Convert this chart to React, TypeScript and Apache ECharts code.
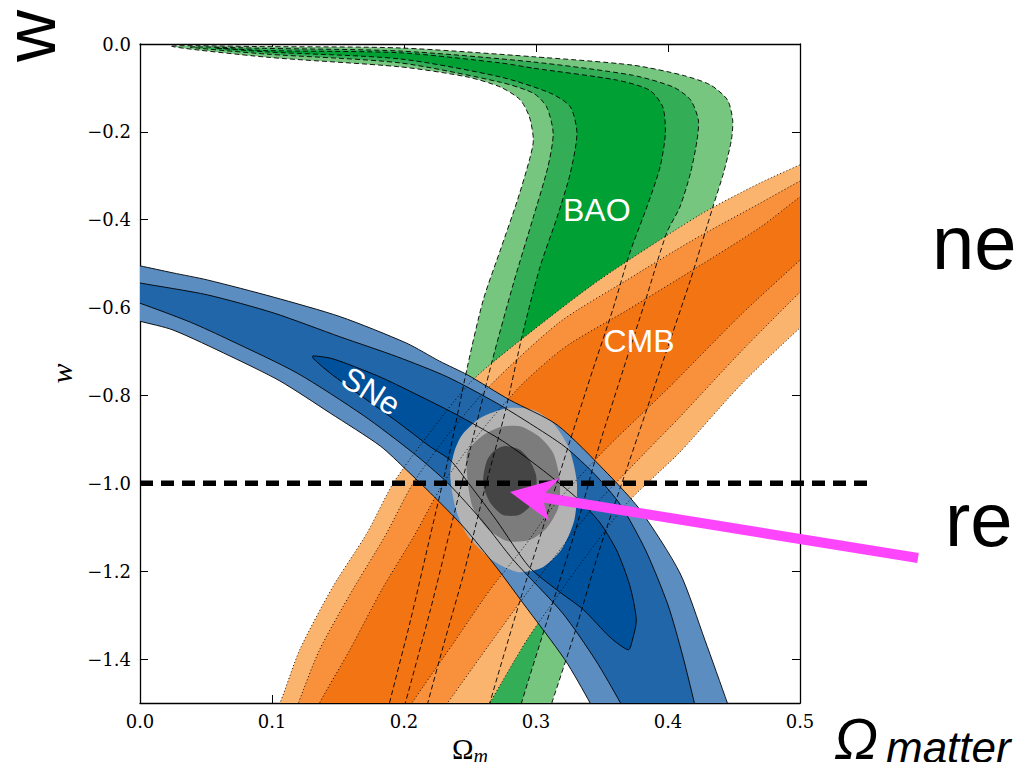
import React, { useEffect, useRef } from "react";
import * as echarts from "echarts";

type Pt = [number, number];

// ---------- axes ----------
const X_MIN = 0;
const X_MAX = 0.5;
const X_INTERVAL = 0.1;
const Y_MIN = -1.5;
const Y_MAX = 0;

// ---------- BAO (green, dashed contours) : closed outlines ----------
const baoOuter: Pt[] = [
  [0.024, -0.005], [0.096, -0.006], [0.197, -0.009], [0.298, -0.029], [0.373, -0.048], [0.411, -0.071],
  [0.432, -0.093], [0.445, -0.127], [0.449, -0.173], [0.448, -0.219], [0.442, -0.294], [0.434, -0.371],
  [0.417, -0.537], [0.394, -0.742], [0.371, -0.947], [0.348, -1.152], [0.33, -1.334], [0.312, -1.5],
  [0.309, -1.527], [0.187, -1.527], [0.189, -1.5], [0.205, -1.311], [0.22, -1.118], [0.235, -0.924],
  [0.248, -0.735], [0.26, -0.583], [0.273, -0.469], [0.286, -0.355], [0.295, -0.264], [0.298, -0.219],
  [0.295, -0.166], [0.288, -0.127], [0.273, -0.098], [0.248, -0.075], [0.197, -0.052], [0.096, -0.03],
];
const baoMid: Pt[] = [
  [0.038, -0.007], [0.096, -0.01], [0.197, -0.016], [0.298, -0.041], [0.373, -0.071], [0.404, -0.098],
  [0.417, -0.127], [0.423, -0.173], [0.422, -0.219], [0.417, -0.294], [0.409, -0.371], [0.399, -0.43],
  [0.383, -0.583], [0.366, -0.742], [0.348, -0.913], [0.33, -1.106], [0.311, -1.288], [0.289, -1.5],
  [0.287, -1.527], [0.198, -1.527], [0.201, -1.5], [0.22, -1.288], [0.235, -1.106], [0.25, -0.924],
  [0.267, -0.719], [0.283, -0.544], [0.298, -0.394], [0.309, -0.28], [0.313, -0.203], [0.308, -0.143],
  [0.298, -0.112], [0.273, -0.087], [0.197, -0.043], [0.096, -0.023],
];
const baoInner: Pt[] = [
  [0.057, -0.009], [0.096, -0.015], [0.197, -0.02], [0.273, -0.043], [0.298, -0.055], [0.361, -0.082],
  [0.386, -0.105], [0.396, -0.143], [0.398, -0.203], [0.394, -0.28], [0.384, -0.371], [0.371, -0.476],
  [0.358, -0.606], [0.343, -0.742], [0.326, -0.901], [0.307, -1.084], [0.288, -1.266], [0.265, -1.5],
  [0.263, -1.527], [0.216, -1.527], [0.218, -1.5], [0.231, -1.357], [0.246, -1.197], [0.261, -1.015],
  [0.277, -0.833], [0.29, -0.658], [0.303, -0.508], [0.316, -0.394], [0.326, -0.294], [0.331, -0.203],
  [0.326, -0.143], [0.311, -0.112], [0.273, -0.075], [0.197, -0.034], [0.096, -0.018],
];

// ---------- CMB (orange, dotted contours) : boundary curves ----------
const cmbA: Pt[] = [
  [0.1, -1.527], [0.106, -1.5], [0.121, -1.379], [0.146, -1.236], [0.172, -1.113], [0.192, -0.999],
  [0.22, -0.883], [0.252, -0.765], [0.298, -0.651], [0.348, -0.537], [0.424, -0.389], [0.47, -0.316],
  [0.5, -0.275], [0.509, -0.264],
];
const cmbB: Pt[] = [
  [0.117, -1.527], [0.12, -1.5], [0.136, -1.379], [0.161, -1.243], [0.186, -1.118], [0.207, -0.999],
  [0.235, -0.883], [0.267, -0.772], [0.318, -0.633], [0.369, -0.537], [0.419, -0.446], [0.47, -0.362],
  [0.5, -0.312], [0.509, -0.3],
];
const cmbC: Pt[] = [
  [0.133, -1.527], [0.136, -1.5], [0.159, -1.379], [0.183, -1.243], [0.208, -1.118], [0.23, -0.999],
  [0.258, -0.883], [0.289, -0.776], [0.322, -0.69], [0.369, -0.606], [0.419, -0.514], [0.47, -0.417],
  [0.5, -0.348], [0.509, -0.332],
];
const cmbD: Pt[] = [
  [0.201, -1.527], [0.206, -1.5], [0.239, -1.357], [0.265, -1.243], [0.292, -1.14], [0.314, -1.049],
  [0.352, -0.924], [0.379, -0.845], [0.404, -0.772], [0.455, -0.617], [0.5, -0.492], [0.509, -0.469],
];
const cmbE: Pt[] = [
  [0.227, -1.527], [0.233, -1.5], [0.267, -1.357], [0.292, -1.254], [0.318, -1.152], [0.345, -1.049],
  [0.383, -0.929], [0.409, -0.849], [0.455, -0.701], [0.5, -0.565], [0.509, -0.542],
];
const cmbF: Pt[] = [
  [0.26, -1.527], [0.265, -1.5], [0.293, -1.357], [0.314, -1.266], [0.333, -1.186], [0.369, -1.045],
  [0.409, -0.929], [0.455, -0.776], [0.5, -0.646], [0.509, -0.624],
];

// ---------- SNe (blue, solid contours) ----------
const sneU3: Pt[] = [
  [-0.008, -0.501], [0, -0.505], [0.025, -0.521], [0.051, -0.537], [0.101, -0.576], [0.152, -0.621],
  [0.202, -0.681], [0.227, -0.722], [0.248, -0.753], [0.28, -0.81], [0.316, -0.867], [0.354, -0.977],
  [0.379, -1.061], [0.409, -1.204], [0.428, -1.357], [0.445, -1.5], [0.448, -1.527],
];
const sneL3: Pt[] = [
  [-0.008, -0.624], [0, -0.631], [0.025, -0.651], [0.068, -0.71], [0.106, -0.767], [0.144, -0.84],
  [0.182, -0.915], [0.202, -0.97], [0.22, -1.022], [0.245, -1.099], [0.27, -1.191], [0.29, -1.272],
  [0.322, -1.402], [0.341, -1.5], [0.345, -1.527],
];
const sneU2: Pt[] = [
  [-0.008, -0.539], [0, -0.544], [0.051, -0.571], [0.101, -0.612], [0.152, -0.667], [0.195, -0.712],
  [0.233, -0.758], [0.27, -0.817], [0.295, -0.863], [0.322, -0.917], [0.345, -0.981], [0.364, -1.049],
  [0.383, -1.152], [0.4, -1.277], [0.411, -1.391], [0.42, -1.5], [0.422, -1.527],
];
const sneL2: Pt[] = [
  [-0.008, -0.583], [0, -0.59], [0.038, -0.633], [0.068, -0.674], [0.119, -0.749], [0.169, -0.845],
  [0.207, -0.931], [0.233, -0.999], [0.26, -1.088], [0.283, -1.175], [0.32, -1.295], [0.345, -1.402],
  [0.364, -1.5], [0.368, -1.527],
];
const sneU1: Pt[] = [
  [0.131, -0.71], [0.144, -0.715], [0.157, -0.728], [0.182, -0.758], [0.207, -0.794], [0.233, -0.833],
  [0.254, -0.867], [0.277, -0.908], [0.303, -0.965], [0.33, -1.031], [0.348, -1.088], [0.361, -1.152],
  [0.371, -1.232], [0.376, -1.311], [0.373, -1.357], [0.37, -1.379],
];
const sneL1: Pt[] = [
  [0.356, -1.35], [0.336, -1.288], [0.316, -1.243], [0.295, -1.191], [0.27, -1.084], [0.25, -1.004],
  [0.235, -0.947], [0.22, -0.917], [0.195, -0.86], [0.169, -0.804], [0.144, -0.749], [0.131, -0.715],
];

// ---------- combined (grey) ----------
const combOuter: Pt[] = [
  [0.235, -0.981], [0.238, -0.929], [0.244, -0.89], [0.258, -0.851], [0.278, -0.829], [0.298, -0.833],
  [0.313, -0.863], [0.325, -0.92], [0.331, -0.999], [0.329, -1.084], [0.319, -1.152], [0.304, -1.193],
  [0.286, -1.202], [0.267, -1.175], [0.248, -1.118], [0.239, -1.056],
];
const combMid: Pt[] = [
  [0.248, -0.988], [0.248, -0.929], [0.258, -0.895], [0.273, -0.872], [0.288, -0.87], [0.303, -0.895],
  [0.313, -0.931], [0.318, -0.992], [0.317, -1.054], [0.308, -1.102], [0.295, -1.129], [0.278, -1.131],
  [0.263, -1.102], [0.252, -1.054],
];
const combInner: Pt[] = [
  [0.26, -0.988], [0.263, -0.947], [0.269, -0.924], [0.277, -0.915], [0.288, -0.924], [0.295, -0.947],
  [0.3, -0.981], [0.3, -1.022], [0.295, -1.054], [0.287, -1.072], [0.275, -1.072], [0.266, -1.047],
  [0.261, -1.015],
];

// ---------- annotations ----------
const wLambda: Pt[] = [[0, -1.0], [0.5545, -1.0]];
const arrowTip: Pt = [0.2803, -1.02];
const arrowTail: Pt = [0.5894, -1.17];
const regionLabels = [
  { text: "BAO", at: [0.346, -0.378] as Pt, rot: 0 },
  { text: "CMB", at: [0.378, -0.676] as Pt, rot: 0 },
  { text: "SNe", at: [0.175, -0.79] as Pt, rot: -32 },
];

const rev = (a: Pt[]) => a.slice().reverse();

const COLORS = {
  baoL: "#76c67f", baoM: "#33ae57", baoD: "#00a035",
  cmbL: "#fbb46e", cmbM: "#f8903c", cmbD: "#f37413",
  sneL: "#5c8dc1", sneM: "#2166a8", sneD: "#00519b",
  grL: "#b3b3b3", grM: "#7c7c7c", grD: "#454545",
};

const fillRegions = [
  { pts: baoOuter, color: COLORS.baoL },
  { pts: baoMid, color: COLORS.baoM },
  { pts: baoInner, color: COLORS.baoD },
  { pts: [...cmbA, ...rev(cmbF)], color: COLORS.cmbL },
  { pts: [...cmbB, ...rev(cmbE)], color: COLORS.cmbM },
  { pts: [...cmbC, ...rev(cmbD)], color: COLORS.cmbD },
  { pts: [...sneU3, ...rev(sneL3)], color: COLORS.sneL },
  { pts: [...sneU2, ...rev(sneL2)], color: COLORS.sneM },
  { pts: [...sneU1, ...sneL1], color: COLORS.sneD },
  { pts: combOuter, color: COLORS.grL },
  { pts: combMid, color: COLORS.grM },
  { pts: combInner, color: COLORS.grD },
];

const DASH = [5, 3];
const DOT = [1, 2.4];
const outlineRegions = [
  { pts: baoOuter, dash: DASH },
  { pts: baoMid, dash: DASH },
  { pts: baoInner, dash: DASH },
  { pts: [...cmbA, ...rev(cmbF)], dash: DOT },
  { pts: [...cmbB, ...rev(cmbE)], dash: DOT },
  { pts: [...cmbC, ...rev(cmbD)], dash: DOT },
  { pts: [...sneU3, ...rev(sneL3)], dash: null },
  { pts: [...sneU2, ...rev(sneL2)], dash: null },
  { pts: [...sneU1, ...sneL1], dash: null },
];

const SMOOTH = 0.25;

const fmt = (v: number) => {
  if (Math.abs(v) < 1e-9) return "0.0";
  return (v < 0 ? "\u2212" : "") + Math.abs(v).toFixed(1);
};

export default function App() {
  const ref = useRef<HTMLDivElement>(null);
  useEffect(() => {
    document.body.style.margin = "0";
    const chart = echarts.init(ref.current!, null, { renderer: "svg" });
    const serif = "DejaVu Serif";
    const axisLine = { show: true, onZero: false, lineStyle: { color: "#000", width: 1.3 } };
    const axisTick = { show: true, inside: true, length: 8, lineStyle: { color: "#000", width: 1 } };
    const anchor = (n: number) => Array.from({ length: n }, (_, i) => [0.25, -0.75, i]);

    const option: any = {
      animation: false,
      backgroundColor: "#fff",
      grid: { left: 140, right: 219, top: 44, bottom: 59, containLabel: false, outerBoundsMode: "none" },
      xAxis: [
        {
          type: "value", min: X_MIN, max: X_MAX, interval: X_INTERVAL, position: "bottom",
          axisLine, axisTick, splitLine: { show: false },
          axisLabel: { color: "#000", fontFamily: serif, fontSize: 18, margin: 9, formatter: fmt },
          name: "{a|Ω}{b|m}", nameLocation: "middle", nameGap: 27,
          nameTextStyle: {
            rich: {
              a: { fontFamily: "Liberation Serif", fontSize: 29, color: "#000" },
              b: { fontFamily: "Liberation Serif", fontStyle: "italic", fontSize: 20, color: "#000", padding: [14, 0, 0, 0] },
            },
          },
        },
        {
          type: "value", min: X_MIN, max: X_MAX, interval: X_INTERVAL, position: "top",
          axisLine, axisTick, splitLine: { show: false }, axisLabel: { show: false },
        },
      ],
      yAxis: [
        {
          type: "value", min: Y_MIN, max: Y_MAX, splitNumber: 7, position: "left",
          axisLine, axisTick, splitLine: { show: false },
          axisLabel: {
            color: "#000", fontFamily: serif, fontSize: 18, margin: 9,
            formatter: (v: number) => (Math.abs(v - Y_MIN) < 1e-9 ? "" : fmt(v)),
          },
          name: "w", nameLocation: "middle", nameGap: 58, nameRotate: 90,
          nameTextStyle: { fontFamily: "Liberation Serif", fontStyle: "italic", fontSize: 30, color: "#000" },
        },
        {
          type: "value", min: Y_MIN, max: Y_MAX, splitNumber: 7, position: "right",
          axisLine, axisTick, splitLine: { show: false }, axisLabel: { show: false },
        },
      ],
      series: [
        {
          type: "custom", coordinateSystem: "cartesian2d", clip: true, silent: true, z: 1,
          data: anchor(fillRegions.length), encode: { x: 0, y: 1 },
          renderItem: (params: any, api: any) => {
            const r = fillRegions[params.dataIndex];
            return {
              type: "polygon",
              shape: { points: r.pts.map((p) => api.coord(p)), smooth: SMOOTH },
              style: { fill: r.color, stroke: null },
            };
          },
        },
        {
          type: "custom", coordinateSystem: "cartesian2d", clip: true, silent: true, z: 2,
          data: anchor(outlineRegions.length), encode: { x: 0, y: 1 },
          renderItem: (params: any, api: any) => {
            const r = outlineRegions[params.dataIndex];
            return {
              type: "polygon",
              shape: { points: r.pts.map((p) => api.coord(p)), smooth: SMOOTH },
              style: { fill: null, stroke: "#000", lineWidth: 0.9, lineDash: r.dash || null },
            };
          },
        },
        {
          type: "custom", coordinateSystem: "cartesian2d", clip: false, silent: true, z: 3,
          data: anchor(regionLabels.length), encode: { x: 0, y: 1 },
          renderItem: (params: any, api: any) => {
            const l = regionLabels[params.dataIndex];
            const c = api.coord(l.at);
            return {
              type: "text", x: c[0], y: c[1], rotation: (l.rot * Math.PI) / 180,
              style: {
                text: l.text, fill: "#fff", fontSize: 32, fontFamily: "Liberation Sans",
                align: "center", verticalAlign: "middle",
              },
            };
          },
        },
        {
          type: "custom", coordinateSystem: "cartesian2d", clip: false, silent: true, z: 4,
          data: anchor(1), encode: { x: 0, y: 1 },
          renderItem: (params: any, api: any) => {
            const a = api.coord(wLambda[0]);
            const b = api.coord(wLambda[1]);
            const tip = api.coord(arrowTip);
            const tail = api.coord(arrowTail);
            const dx = tail[0] - tip[0];
            const dy = tail[1] - tip[1];
            const L = Math.hypot(dx, dy);
            const ux = dx / L, uy = dy / L, nx = -uy, ny = ux;
            const P = (s: number, t: number) => [tip[0] + ux * s + nx * t, tip[1] + uy * s + ny * t];
            return {
              type: "group",
              children: [
                {
                  type: "line",
                  shape: { x1: a[0], y1: a[1], x2: b[0], y2: b[1] },
                  style: { stroke: "#000", lineWidth: 5.5, lineDash: [13, 8] },
                },
                {
                  type: "polygon",
                  shape: { points: [P(0, 0), P(47, -22), P(35, -5), P(L, -5), P(L, 5), P(35, 5), P(43, 22)] },
                  style: { fill: "#fd45fb", stroke: null },
                },
              ],
            };
          },
        },
      ],
      graphic: [
        {
          type: "text", x: 30, y: 36, rotation: Math.PI / 2,
          style: { text: "w", fontSize: 72, fontFamily: "Liberation Sans", fill: "#000", align: "center", verticalAlign: "middle" },
        },
        {
          type: "text", x: 932, y: 242,
          style: { text: "ne", fontSize: 76, fontFamily: "Liberation Sans", fill: "#000", align: "left", verticalAlign: "middle" },
        },
        {
          type: "text", x: 945, y: 519,
          style: { text: "re", fontSize: 76, fontFamily: "Liberation Sans", fill: "#000", align: "left", verticalAlign: "middle" },
        },
        {
          type: "text", x: 834, y: 738,
          style: { text: "Ω", fontSize: 58, fontStyle: "italic", fontFamily: "Liberation Sans", fill: "#000", align: "left", verticalAlign: "middle" },
        },
        {
          type: "text", x: 886, y: 747,
          style: { text: "matter", fontSize: 44, fontStyle: "italic", fontFamily: "Liberation Sans", fill: "#000", align: "left", verticalAlign: "middle" },
        },
      ],
    };
    chart.setOption(option);
    return () => chart.dispose();
  }, []);
  return (
    <div
      ref={ref}
      style={{ position: "absolute", left: 0, top: 0, width: 1019, height: 762, background: "#fff" }}
    />
  );
}
